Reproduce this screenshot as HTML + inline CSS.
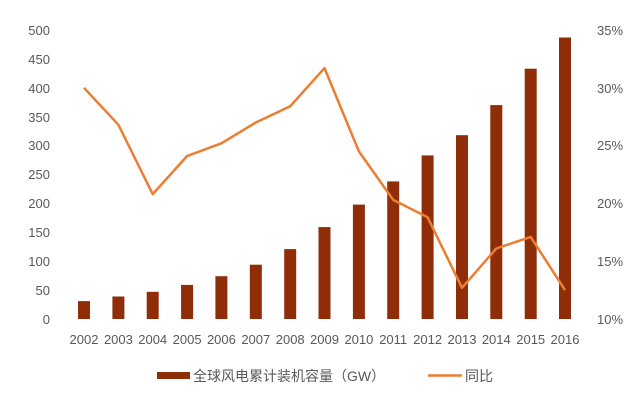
<!DOCTYPE html><html><head><meta charset="utf-8"><style>body{margin:0;background:#fff}svg{display:block;font-family:"Liberation Sans","Noto Sans CJK SC",sans-serif}</style></head><body>
<svg width="643" height="415" viewBox="0 0 643 415">
<g font-size="13" fill="#595959">
<g text-anchor="end">
<text x="50" y="324">0</text><text x="50" y="295">50</text><text x="50" y="266">100</text><text x="50" y="237">150</text><text x="50" y="208">200</text><text x="50" y="179">250</text><text x="50" y="150">300</text><text x="50" y="122">350</text><text x="50" y="93">400</text><text x="50" y="64">450</text><text x="50" y="35">500</text>
</g>
<g text-anchor="start">
<text x="597" y="324">10%</text><text x="597" y="266">15%</text><text x="597" y="208">20%</text><text x="597" y="150">25%</text><text x="597" y="93">30%</text><text x="597" y="35">35%</text>
</g>
<g text-anchor="middle">
<text x="84" y="344">2002</text><text x="118.4" y="344">2003</text><text x="152.7" y="344">2004</text><text x="187.1" y="344">2005</text><text x="221.4" y="344">2006</text><text x="255.8" y="344">2007</text><text x="290.2" y="344">2008</text><text x="324.5" y="344">2009</text><text x="358.9" y="344">2010</text><text x="393.2" y="344">2011</text><text x="427.6" y="344">2012</text><text x="462" y="344">2013</text><text x="496.3" y="344">2014</text><text x="530.7" y="344">2015</text><text x="565" y="344">2016</text>
</g>
</g>
<g fill="#8E2D08">
<rect x="78" y="301.1" width="12" height="17.9"/><rect x="112.4" y="296.5" width="12" height="22.5"/><rect x="146.7" y="291.8" width="12" height="27.2"/><rect x="181.1" y="284.9" width="12" height="34.1"/><rect x="215.4" y="276.2" width="12" height="42.8"/><rect x="249.8" y="264.7" width="12" height="54.3"/><rect x="284.2" y="249.1" width="12" height="69.9"/><rect x="318.5" y="227.1" width="12" height="91.9"/><rect x="352.9" y="204.6" width="12" height="114.4"/><rect x="387.2" y="181.4" width="12" height="137.6"/><rect x="421.6" y="155.4" width="12" height="163.6"/><rect x="456" y="135.2" width="12" height="183.8"/><rect x="490.3" y="105.1" width="12" height="213.9"/><rect x="524.7" y="68.7" width="12" height="250.3"/><rect x="559" y="37.5" width="12" height="281.5"/>
</g>
<polyline fill="none" stroke="#ED7D31" stroke-width="2.5" stroke-linejoin="round" points="84,87.8 118.4,124.8 152.7,194.2 187.1,156 221.4,143.3 255.8,122.5 290.2,106.3 324.5,68.1 358.9,151.4 393.2,199.9 427.6,217.3 462,287.8 496.3,248.5 530.7,236.9 565,290.1"/>
<rect x="157" y="372" width="33" height="7" fill="#8E2D08"/>
<text x="193" y="381" font-size="14" fill="#595959">全球风电累计装机容量（GW）</text>
<line x1="428" y1="375.5" x2="462" y2="375.5" stroke="#ED7D31" stroke-width="2.5"/>
<text x="465" y="381" font-size="14" fill="#595959">同比</text>
</svg>
</body></html>
